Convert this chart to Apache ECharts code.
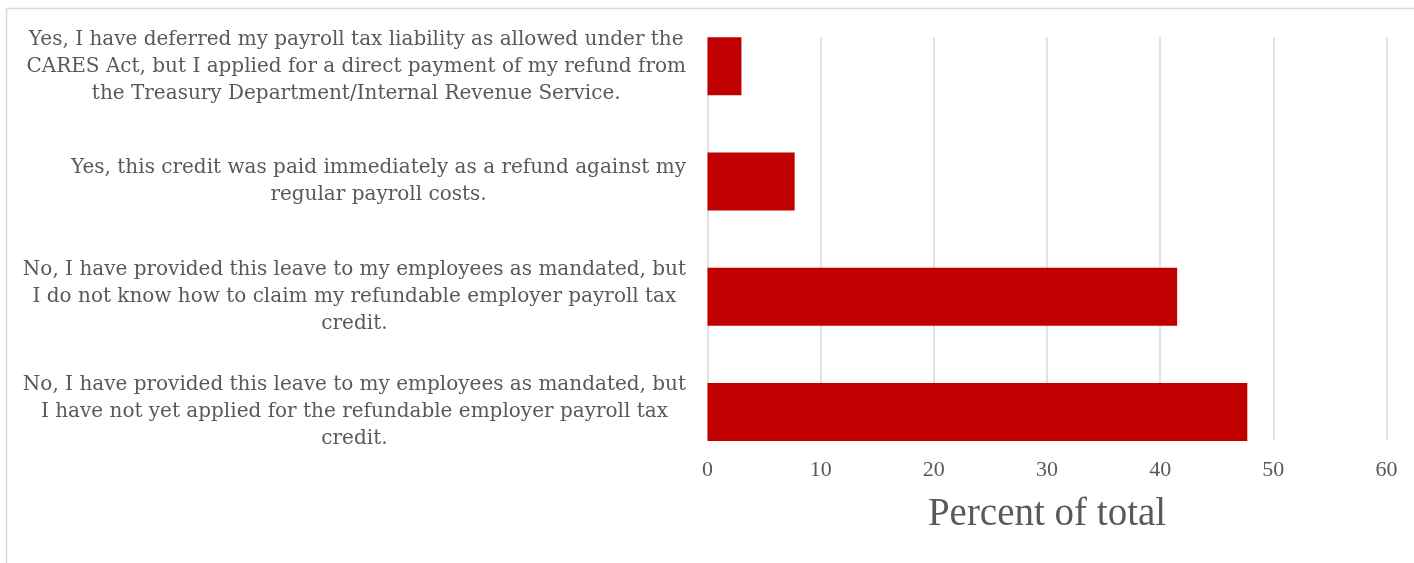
<!DOCTYPE html>
<html>
<head>
<meta charset="utf-8">
<script src="https://cdn.jsdelivr.net/npm/echarts@6/dist/echarts.min.js"></script>
<style>
  html, body { margin: 0; padding: 0; background: #ffffff; }
  #chart { width: 1414px; height: 563px; }
</style>
</head>
<body>
<div id="chart"></div>
<script>
// Survey answers (top to bottom) and their share of respondents
const categories = [
  'Yes, I have deferred my payroll tax liability as allowed under the\nCARES Act, but I applied for a direct payment of my refund from\nthe Treasury Department/Internal Revenue Service.',
  'Yes, this credit was paid immediately as a refund against my\nregular payroll costs.',
  'No, I have provided this leave to my employees as mandated, but\nI do not know how to claim my refundable employer payroll tax\ncredit.',
  'No, I have provided this leave to my employees as mandated, but\nI have not yet applied for the refundable employer payroll tax\ncredit.'
];
const percentValues = [3.0, 7.7, 41.5, 47.7];
const axisMin = 0;
const axisMax = 60;
const axisStep = 10;
const axisTitle = 'Percent of total';

const GRAY = '#595959';
const GRID_GRAY = '#d9d9d9';
const LEFT = 707.5;
const RIGHT = 1414 - 1386.5;

const chart = echarts.init(document.getElementById('chart'), null, { renderer: 'canvas' });

chart.setOption({
  backgroundColor: '#ffffff',
  animation: false,
  graphic: [{
    type: 'rect',
    shape: { x: 6.5, y: 8.5, width: 1430, height: 620 },
    style: { fill: 'none', stroke: GRID_GRAY, lineWidth: 1.5 },
    silent: true,
    z: -10
  }],
  grid: [
    // plot area holding the value gridlines and tick labels
    { left: LEFT, right: RIGHT, top: 37.3, height: 403.4 },
    // band area for the bars and answer labels
    { left: LEFT, right: RIGHT, top: 8.7, height: 461 }
  ],
  xAxis: [
    {
      gridIndex: 0,
      type: 'value',
      min: axisMin,
      max: axisMax,
      interval: axisStep,
      axisLine: { show: false },
      axisTick: { show: false },
      splitLine: { show: true, lineStyle: { color: GRID_GRAY, width: 1.5 } },
      axisLabel: {
        color: GRAY,
        fontFamily: 'Liberation Serif',
        fontSize: 22,
        margin: 19
      },
      name: axisTitle,
      nameLocation: 'middle',
      nameGap: 55,
      nameTextStyle: {
        color: GRAY,
        fontFamily: 'Liberation Serif',
        fontSize: 39
      }
    },
    {
      gridIndex: 1,
      type: 'value',
      min: axisMin,
      max: axisMax,
      show: false
    }
  ],
  yAxis: [
    { gridIndex: 0, type: 'value', show: false, min: 0, max: 1 },
    {
      gridIndex: 1,
      type: 'category',
      inverse: true,
      data: categories,
      axisLine: { show: false },
      axisTick: { show: false },
      splitLine: { show: false },
      axisLabel: {
        align: 'right',
        margin: 21.5,
        color: GRAY,
        fontFamily: 'DejaVu Serif',
        fontSize: 20,
        lineHeight: 27,
        formatter: function (v) {
          return v.split('\n').map(function (l) { return '{c|' + l + '}'; }).join('\n');
        },
        rich: {
          c: {
            align: 'center',
            color: GRAY,
            fontFamily: 'DejaVu Serif',
            fontSize: 20,
            lineHeight: 27
          }
        }
      }
    }
  ],
  series: [{
    type: 'bar',
    xAxisIndex: 1,
    yAxisIndex: 1,
    data: percentValues,
    barWidth: 58,
    itemStyle: { color: '#c00000' },
    silent: true
  }]
});
</script>
</body>
</html>
